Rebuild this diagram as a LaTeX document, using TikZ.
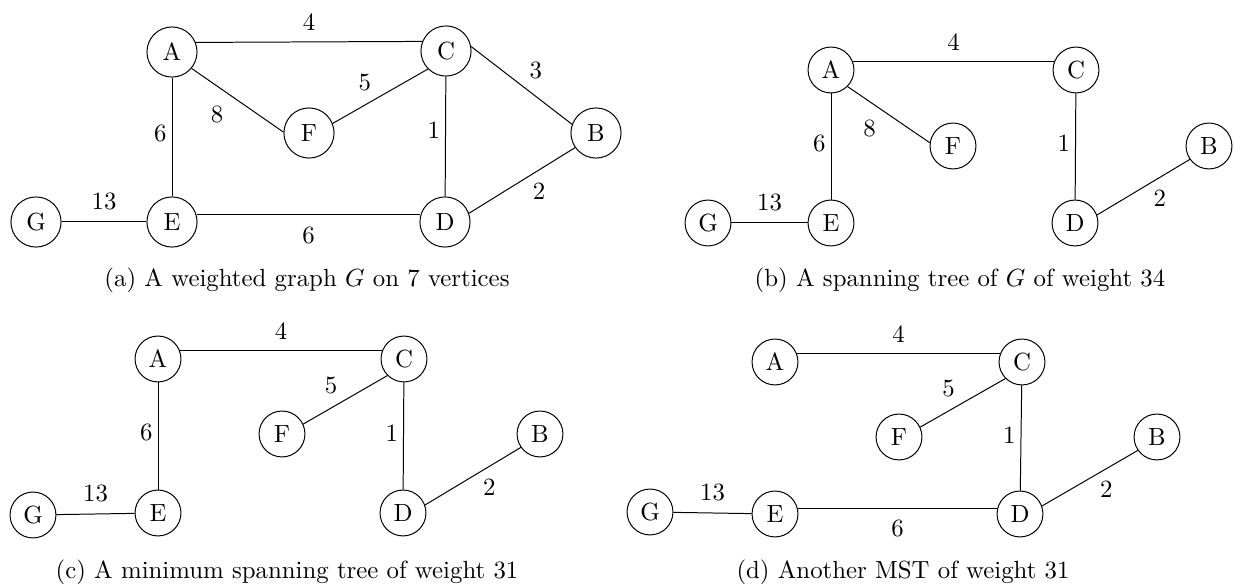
\documentclass[tikz,border=0pt]{standalone}
\usetikzlibrary{positioning}
\tikzset{
  vertex/.style={draw, circle, minimum size=18.5pt, inner sep=0pt},
  bigvertex/.style={vertex, minimum size=20.2pt},
  weight/.style={inner sep=2pt},
}
\begin{document}
\begin{tikzpicture}[x=0.403pt, y=-0.403pt]
  \useasboundingbox (0,0) rectangle (1235,584);

  % (a) the whole graph
  \begin{scope}
    \node[bigvertex] (A1) at (172,52) {A};
    \node[bigvertex] (C1) at (446,51) {C};
    \node[bigvertex] (F1) at (309,133) {F};
    \node[bigvertex] (B1) at (596,133) {B};
    \node[bigvertex] (G1) at (36,222) {G};
    \node[bigvertex] (E1) at (172,222) {E};
    \node[bigvertex] (D1) at (445,222) {D};
    \draw (A1.22) -- node[weight, above=2.5pt] (wAC1) {4} (C1.158);
    \draw (A1.320) -- node[weight, below left=0pt and 3.5pt] (wAF1) {8} (F1.178);
    \draw (F1.22) -- node[weight, above left=0pt and 1.5pt] (wFC1) {5} (C1.225);
    \draw (C1.10) -- node[weight, above right=0.5pt and 1pt] (wCB1) {3} (B1.160);
    \draw (A1) -- node[weight, pos=0.47, left] (wAE1) {6} (E1);
    \draw (C1) -- node[weight, pos=0.45, left] (wCD1) {1} (D1);
    \draw (D1.20) -- node[weight, pos=0.55, below right] (wDB1) {2} (B1.215);
    \draw (G1) -- node[weight, above=2.5pt] (wGE1) {13} (E1);
    \draw (E1.16) -- node[weight, below=2.5pt] (wED1) {6} (D1.164);
  \end{scope}
  \node[anchor=base] (capa) at (307,287) {(a) A weighted graph $G$ on 7 vertices};

  % (b) a spanning tree
  \begin{scope}
    \node[vertex] (A2) at (831,70) {A};
    \node[vertex] (C2) at (1076,70) {C};
    \node[vertex] (F2) at (953,146) {F};
    \node[vertex] (B2) at (1209,146) {B};
    \node[vertex] (G2) at (708,223) {G};
    \node[vertex] (E2) at (831,223) {E};
    \node[vertex] (D2) at (1075,223) {D};
    \draw (A2.20) -- node[weight, above=2.5pt] (wAC2) {4} (C2.160);
    \draw (A2.315) -- node[weight, below left=0pt and 3pt] (wAF2) {8} (F2.172);
    \draw (A2) -- node[weight, pos=0.47, left] (wAE2) {6} (E2);
    \draw (C2) -- node[weight, pos=0.47, left] (wCD2) {1} (D2);
    \draw (D2.20) -- node[weight, pos=0.55, below right] (wDB2) {2} (B2.215);
    \draw (G2) -- node[weight, above=2.5pt] (wGE2) {13} (E2);
  \end{scope}
  \node[anchor=base] (capb) at (960,287) {(b) A spanning tree of $G$ of weight 34};

  % (c) a minimum spanning tree
  \begin{scope}
    \node[vertex] (A3) at (158,359) {A};
    \node[vertex] (C3) at (404,359) {C};
    \node[vertex] (F3) at (282,434) {F};
    \node[vertex] (B3) at (540,434) {B};
    \node[vertex] (G3) at (33,515) {G};
    \node[vertex] (E3) at (158,513) {E};
    \node[vertex] (D3) at (403,513) {D};
    \draw (A3.20) -- node[weight, above=2.5pt] (wAC3) {4} (C3.160);
    \draw (F3.25) -- node[weight, above left=0pt and 1pt] (wFC3) {5} (C3.225);
    \draw (A3) -- node[weight, pos=0.47, left] (wAE3) {6} (E3);
    \draw (C3) -- node[weight, pos=0.47, left] (wCD3) {1} (D3);
    \draw (D3.20) -- node[weight, pos=0.55, below right] (wDB3) {2} (B3.215);
    \draw (G3) -- node[weight, above=2.5pt] (wGE3) {13} (E3);
  \end{scope}
  \node[anchor=base] (capc) at (287,579) {(c) A minimum spanning tree of weight 31};

  % (d) another minimum spanning tree
  \begin{scope}
    \node[vertex] (A4) at (775,362) {A};
    \node[vertex] (C4) at (1022,362) {C};
    \node[vertex] (F4) at (899,437) {F};
    \node[vertex] (B4) at (1157,437) {B};
    \node[vertex] (G4) at (650,512) {G};
    \node[vertex] (E4) at (775,514) {E};
    \node[vertex] (D4) at (1020,514) {D};
    \draw (A4.20) -- node[weight, above=2.5pt] (wAC4) {4} (C4.160);
    \draw (F4.25) -- node[weight, above left=0pt and 1pt] (wFC4) {5} (C4.225);
    \draw (C4) -- node[weight, pos=0.47, left] (wCD4) {1} (D4);
    \draw (D4.20) -- node[weight, pos=0.55, below right] (wDB4) {2} (B4.215);
    \draw (G4) -- node[weight, above=2.5pt] (wGE4) {13} (E4);
    \draw (E4.13) -- node[weight, below=2.5pt] (wED4) {6} (D4.167);
  \end{scope}
  \node[anchor=base] (capd) at (903,579) {(d) Another MST of weight 31};
\end{tikzpicture}
\end{document}
